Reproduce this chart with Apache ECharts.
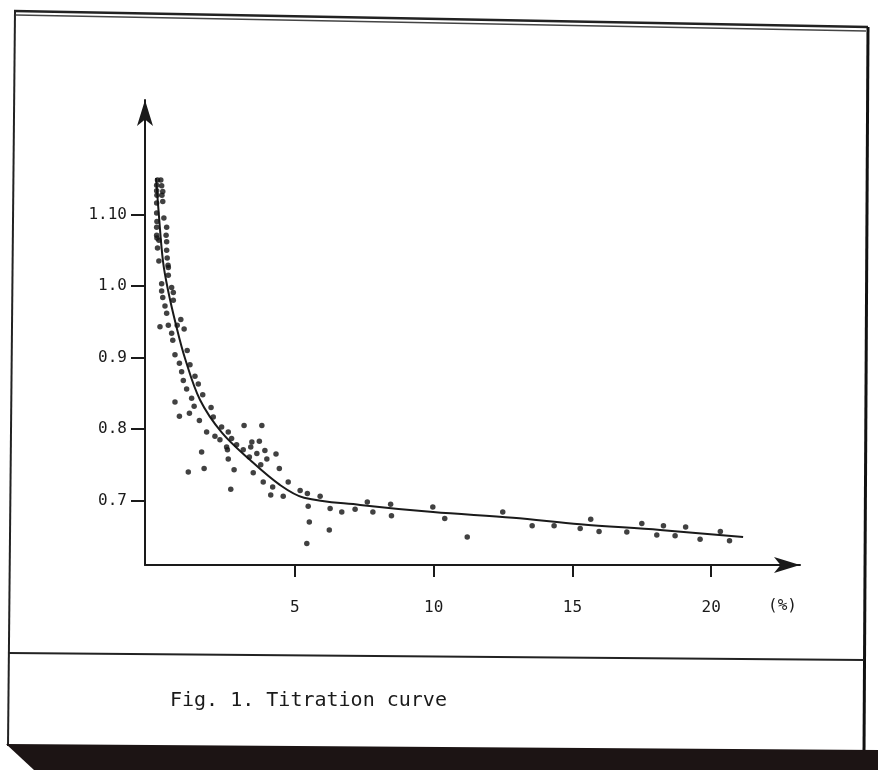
<!DOCTYPE html>
<html>
<head>
<meta charset="utf-8">
<script src="https://cdn.jsdelivr.net/npm/echarts@6/dist/echarts.min.js"></script>
<style>
  html, body { margin: 0; padding: 0; background: #fff; }
  #chart { width: 878px; height: 770px; }
</style>
</head>
<body>
<div id="chart"></div>
<script>
// measured titration points: [added %, reading]
const points = [
  [0.05, 1.148], [0.02, 1.141], [0.02, 1.133], [0.03, 1.127], [0.02, 1.116],
  [0.02, 1.102], [0.03, 1.090], [0.02, 1.082], [0.02, 1.071], [0.03, 1.067],
  [0.10, 1.064], [0.05, 1.053], [0.10, 1.035],
  [0.17, 1.148], [0.20, 1.140], [0.24, 1.132], [0.21, 1.127], [0.24, 1.118],
  [0.28, 1.095], [0.38, 1.082], [0.36, 1.071], [0.38, 1.062], [0.38, 1.050],
  [0.40, 1.039], [0.43, 1.029], [0.44, 1.026], [0.44, 1.015], [0.20, 1.003],
  [0.56, 0.998], [0.20, 0.993], [0.62, 0.991], [0.24, 0.984], [0.62, 0.980],
  [0.32, 0.972], [0.38, 0.962], [0.89, 0.953], [0.14, 0.943], [0.44, 0.945],
  [0.76, 0.945], [1.01, 0.940], [0.56, 0.934], [0.60, 0.924], [0.68, 0.904],
  [1.12, 0.910], [0.84, 0.892], [1.22, 0.890], [0.92, 0.880], [1.40, 0.874],
  [0.98, 0.868], [1.52, 0.863], [1.10, 0.856], [1.68, 0.848], [1.28, 0.843],
  [0.68, 0.838], [1.37, 0.832], [1.98, 0.830], [0.84, 0.818], [1.20, 0.822],
  [2.06, 0.817], [1.56, 0.812], [2.36, 0.803], [1.82, 0.796], [2.60, 0.796],
  [2.12, 0.790], [2.30, 0.785], [2.72, 0.787], [2.54, 0.775], [1.64, 0.768],
  [1.73, 0.745], [1.16, 0.740], [3.17, 0.805], [3.81, 0.805], [2.90, 0.778],
  [2.57, 0.771], [3.14, 0.771], [3.45, 0.782], [3.41, 0.775], [3.72, 0.783],
  [3.63, 0.766], [3.92, 0.770], [3.36, 0.761], [3.99, 0.758], [4.32, 0.765],
  [2.60, 0.758], [3.77, 0.750], [2.81, 0.743], [4.44, 0.745], [3.50, 0.739],
  [3.86, 0.726], [4.76, 0.726], [4.20, 0.719], [2.69, 0.716], [4.13, 0.708],
  [4.58, 0.706], [5.19, 0.714], [5.45, 0.710], [5.91, 0.706], [5.48, 0.692],
  [6.27, 0.689], [6.69, 0.684], [7.17, 0.688], [5.52, 0.670], [6.24, 0.659],
  [5.43, 0.640], [7.61, 0.698], [7.81, 0.684], [8.45, 0.695], [8.48, 0.679],
  [9.97, 0.691], [10.40, 0.675], [11.21, 0.649], [12.49, 0.684], [13.55, 0.665],
  [14.34, 0.665], [15.28, 0.661], [15.66, 0.674], [15.96, 0.657], [16.96, 0.656],
  [17.50, 0.668], [18.04, 0.652], [18.28, 0.665], [18.70, 0.651], [19.08, 0.663],
  [19.60, 0.646], [20.33, 0.657], [20.66, 0.644]
];

// fitted titration curve
const curve = [
  [0.00, 1.151], [0.10, 1.099], [0.25, 1.034], [0.43, 0.994], [0.72, 0.945],
  [1.04, 0.899], [1.58, 0.841], [2.37, 0.795], [3.38, 0.757], [4.46, 0.722],
  [5.33, 0.704], [7.35, 0.694], [9.98, 0.684], [12.86, 0.676], [15.28, 0.667],
  [18.16, 0.659], [21.15, 0.649]
];

const xTicks = [5, 10, 15, 20];
const yTicks = [0.7, 0.8, 0.9, 1.0, 1.1];
const yTickLabels = ['0.7', '0.8', '0.9', '1.0', '1.10'];

const mono = '"DejaVu Sans Mono", "Liberation Mono", monospace';
const ink = '#1a1a1a';

const chart = echarts.init(document.getElementById('chart'));

const option = {
  backgroundColor: '#fff',
  animation: false,
  grid: { left: 145, top: 100, right: 78, bottom: 205 },
  xAxis: {
    type: 'value',
    min: -0.4,
    max: 23.2,
    splitLine: { show: false },
    axisLine: {
      onZero: false,
      lineStyle: { color: ink, width: 2 },
      symbol: ['none', 'arrow'],
      symbolSize: [12, 26]
    },
    axisTick: {
      customValues: xTicks,
      length: 12,
      lineStyle: { color: ink, width: 2 }
    },
    axisLabel: {
      customValues: xTicks,
      margin: 35,
      fontFamily: mono,
      fontSize: 16,
      color: ink
    }
  },
  yAxis: {
    type: 'value',
    min: 0.61,
    max: 1.26,
    splitLine: { show: false },
    axisLine: {
      show: true,
      onZero: false,
      lineStyle: { color: ink, width: 2 },
      symbol: ['none', 'arrow'],
      symbolSize: [12, 26]
    },
    axisTick: {
      show: true,
      customValues: yTicks,
      length: 14,
      lineStyle: { color: ink, width: 2 }
    },
    axisLabel: {
      customValues: yTicks,
      margin: 18,
      fontFamily: mono,
      fontSize: 16,
      color: ink,
      formatter: (v) => {
        const i = yTicks.findIndex(t => Math.abs(t - v) < 1e-6);
        return i >= 0 ? yTickLabels[i] : '';
      }
    }
  },
  series: [
    {
      name: 'points',
      type: 'scatter',
      data: points,
      symbol: 'circle',
      symbolSize: 5.5,
      itemStyle: { color: '#111' },
      z: 3
    },
    {
      name: 'curve',
      type: 'line',
      data: curve,
      smooth: 0.35,
      showSymbol: false,
      lineStyle: { color: ink, width: 2 },
      z: 2
    }
  ],
  graphic: [
    // outer frame
    { type: 'line', shape: { x1: 14, y1: 11, x2: 868, y2: 27 }, style: { stroke: '#222', lineWidth: 2.5 } },
    { type: 'line', shape: { x1: 16, y1: 15, x2: 866, y2: 31 }, style: { stroke: '#444', lineWidth: 1.5 } },
    { type: 'line', shape: { x1: 15, y1: 11, x2: 8, y2: 746 }, style: { stroke: '#222', lineWidth: 2 } },
    { type: 'line', shape: { x1: 868, y1: 27, x2: 864, y2: 752 }, style: { stroke: '#111', lineWidth: 3 } },
    { type: 'line', shape: { x1: 8, y1: 653, x2: 864, y2: 660 }, style: { stroke: '#222', lineWidth: 2 } },
    {
      type: 'polygon',
      shape: { points: [[6, 744], [878, 750], [878, 770], [34, 770]] },
      style: { fill: '#1c1414' }
    },
    // unit and caption
    {
      type: 'text', left: 768, top: 598,
      style: { text: '(%)', font: '16px ' + mono, fill: ink }
    },
    {
      type: 'text', left: 170, top: 691,
      style: { text: 'Fig. 1. Titration curve', font: '20px ' + mono, fill: ink }
    }
  ]
};

chart.setOption(option);
</script>
</body>
</html>
